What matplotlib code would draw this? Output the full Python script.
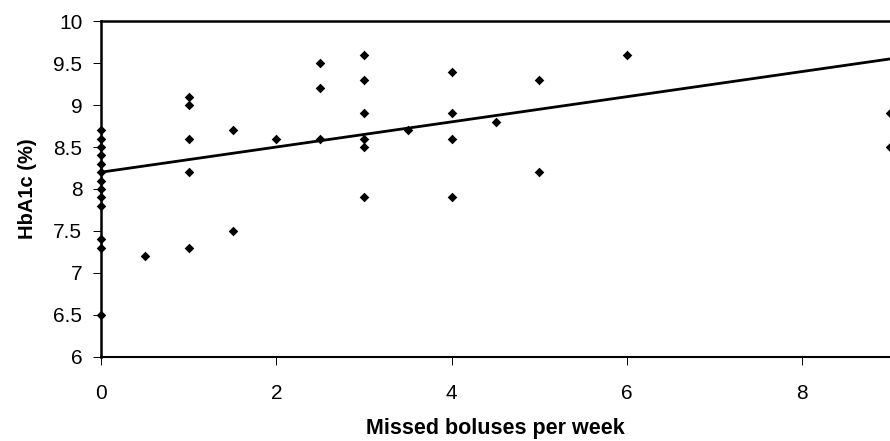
import numpy as np
import matplotlib
matplotlib.use("Agg")
import matplotlib.pyplot as plt

plt.rcParams['font.family'] = ['Liberation Sans', 'DejaVu Sans']

# Missed boluses per week (x) vs HbA1c % (y)
missed = [0, 0, 0, 0, 0, 0, 0, 0, 0, 0, 0, 0, 0,
          0.5,
          1, 1, 1, 1, 1,
          1.5, 1.5,
          2,
          2.5, 2.5, 2.5,
          3, 3, 3, 3, 3, 3,
          3.5,
          4, 4, 4, 4,
          4.5,
          5, 5,
          6,
          9, 9]
hba1c = [8.7, 8.6, 8.5, 8.4, 8.3, 8.2, 8.1, 8.0, 7.9, 7.8, 7.4, 7.3, 6.5,
         7.2,
         9.1, 9.0, 8.6, 8.2, 7.3,
         8.7, 7.5,
         8.6,
         9.5, 9.2, 8.6,
         9.6, 9.3, 8.9, 8.6, 8.5, 7.9,
         8.7,
         9.4, 8.9, 8.6, 7.9,
         8.8,
         9.3, 8.2,
         9.6,
         8.9, 8.5]

# linear trend as drawn in the original chart
trend_intercept = 8.2
trend_slope = 0.15

x_ticks = [0, 2, 4, 6, 8]
y_ticks = [6, 6.5, 7, 7.5, 8, 8.5, 9, 9.5, 10]
y_ticklabels = ["6", "6.5", "7", "7.5", "8", "8.5", "9", "9.5", "10"]

fig = plt.figure(figsize=(8.9, 4.41), dpi=100)
ax = fig.add_axes([0.1135, 0.191, 0.8865, 0.761])

ax.scatter(missed, hba1c, marker="D", s=24, color="black", linewidths=0,
           zorder=3, clip_on=False)

xs = np.array([0, 9])
ax.plot(xs, trend_intercept + trend_slope * xs, color="black", lw=2, zorder=2)

ax.set_xlim(0, 9)
ax.set_ylim(6, 10)
ax.set_xticks(x_ticks)
ax.set_yticks(y_ticks)
ax.set_yticklabels(y_ticklabels)
ax.tick_params(axis="both", direction="out", length=5.5, width=0.7,
               labelsize=15, colors="black")
ax.tick_params(axis="x", pad=14)
ax.tick_params(axis="y", pad=8)

for side in ["left", "top"]:
    ax.spines[side].set_linewidth(1.8)
    ax.spines[side].set_color("black")
ax.spines["bottom"].set_linewidth(1.5)
ax.spines["right"].set_visible(False)

ax.set_xlabel("Missed boluses per week", fontsize=15.5, fontweight="bold", labelpad=11)
ax.set_ylabel("HbA1c (%)", fontsize=14.5, fontweight="bold", labelpad=12)

fig.savefig("out.png", dpi=100, facecolor="white")
